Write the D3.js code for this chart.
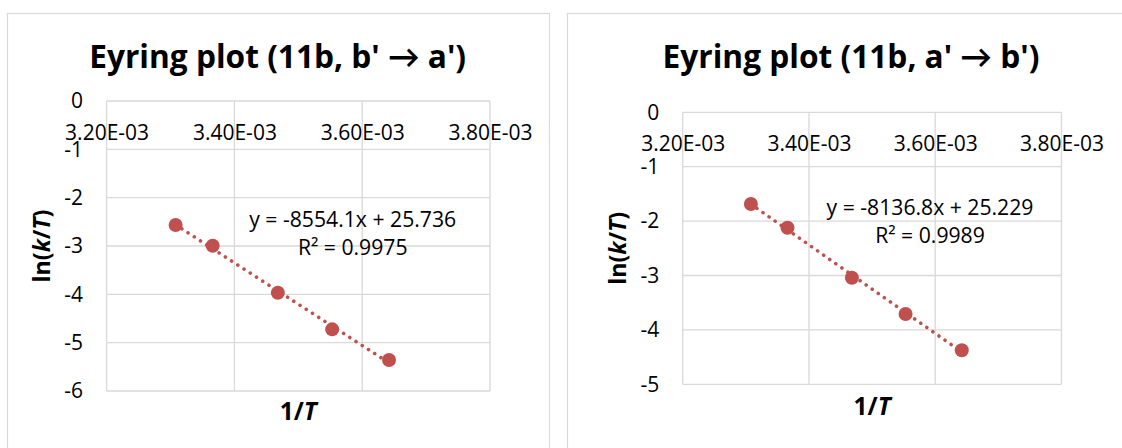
<!DOCTYPE html>
<html>
<head>
<meta charset="utf-8">
<script src="https://cdn.jsdelivr.net/npm/d3@7"></script>
<style>
  html, body { margin: 0; padding: 0; background: #fff; }
  svg { display: block; font-family: "Open Sans", Lato, sans-serif; }
</style>
</head>
<body>
<svg id="chart" width="1122" height="448"></svg>
<script>
// 1/T (K^-1) at the five measurement temperatures
const invT = [3.308e-3, 3.366e-3, 3.468e-3, 3.553e-3, 3.642e-3];
// ln(k/T), conversion b' -> a'
const lnkT_ba = [-2.566, -2.994, -3.966, -4.724, -5.359];
// ln(k/T), conversion a' -> b'
const lnkT_ab = [-1.686, -2.121, -3.040, -3.708, -4.375];
// least-squares fits
const slopes = [-8554.1, -8136.8];
const intercepts = [25.736, 25.229];
const r2s = [0.9975, 0.9989];
// axes
const xTicks = [3.2e-3, 3.4e-3, 3.6e-3, 3.8e-3];
const yTicks_ba = [0, -1, -2, -3, -4, -5, -6];
const yTicks_ab = [0, -1, -2, -3, -4, -5];
const titles = ["Eyring plot (11b, b' \u2192 a')", "Eyring plot (11b, a' \u2192 b')"];

const svg = d3.select("#chart");
const FONT = "'Open Sans', Lato, sans-serif";
const GRID = "#d9d9d9";
const MARK = "#c0504d";

// Excel-style scientific label, e.g. 3.20E-03
function sci(v) {
  const [m, e] = v.toExponential(2).split("e");
  const n = parseInt(e, 10);
  return m + "E" + (n < 0 ? "-" : "+") + String(Math.abs(n)).padStart(2, "0");
}

// scale a text's font size so that it spans the given width
function fitSize(sel, width, base) {
  sel.attr("font-size", base);
  const w = sel.node().getComputedTextLength();
  const size = base * width / w;
  sel.attr("font-size", size);
  return size;
}

function drawPanel(cfg) {
  const { box, plot, title, ys, yTicks, slope, intercept, r2, eq, axisTitleY } = cfg;
  const g = svg.append("g");

  // chart frame
  g.append("rect")
    .attr("x", box.x + 0.5).attr("y", box.y + 0.5)
    .attr("width", box.w).attr("height", box.h)
    .attr("fill", "#fff").attr("stroke", GRID).attr("stroke-width", 1.2);

  // title
  const t = g.append("text")
    .attr("x", box.titleX).attr("y", box.titleY)
    .attr("text-anchor", "middle")
    .attr("font-weight", "bold").attr("fill", "#000")
    .text(title);
  fitSize(t, 377, 30);

  const x = d3.scaleLinear()
    .domain([d3.min(xTicks), d3.max(xTicks)])
    .range([plot.l, plot.r]);
  const y = d3.scaleLinear()
    .domain([d3.min(yTicks), d3.max(yTicks)])
    .range([plot.b, plot.t]);

  // gridlines
  g.append("g").selectAll("line").data(yTicks).join("line")
    .attr("x1", plot.l).attr("x2", plot.r)
    .attr("y1", d => y(d)).attr("y2", d => y(d))
    .attr("stroke", GRID).attr("stroke-width", 1.3);
  g.append("g").selectAll("line").data(xTicks).join("line")
    .attr("y1", plot.t).attr("y2", plot.b)
    .attr("x1", d => x(d)).attr("x2", d => x(d))
    .attr("stroke", GRID).attr("stroke-width", 1.3);

  // horizontal axis crosses at y = 0 (top of the plot)
  const xAxis = g.append("g")
    .attr("transform", `translate(0,${y(0)})`)
    .call(d3.axisBottom(x).tickValues(xTicks).tickFormat(sci).tickSize(0));
  xAxis.select(".domain").remove();
  const xLabels = xAxis.selectAll("text")
    .attr("font-family", FONT).attr("fill", "#000");
  const tickSize = fitSize(d3.select(xLabels.nodes()[0]), 84, 21);
  xLabels.attr("font-size", tickSize).attr("dy", null).attr("y", 39);

  const yAxis = g.append("g")
    .attr("transform", `translate(${plot.l},0)`)
    .call(d3.axisLeft(y).tickValues(yTicks).tickFormat(d => String(d)).tickSize(0).tickPadding(23.5));
  yAxis.select(".domain").remove();
  yAxis.selectAll("text")
    .attr("font-family", FONT).attr("font-size", tickSize).attr("fill", "#000");

  // axis titles
  const yt = g.append("text")
    .attr("transform", `translate(${axisTitleY},${(plot.t + plot.b) / 2}) rotate(-90)`)
    .attr("text-anchor", "middle").attr("dy", "0.35em")
    .attr("font-weight", "bold").attr("fill", "#000");
  yt.append("tspan").text("ln(");
  yt.append("tspan").attr("font-style", "italic").text("k");
  yt.append("tspan").text("/");
  yt.append("tspan").attr("font-style", "italic").text("T");
  yt.append("tspan").text(")");
  fitSize(yt, 73, 23);

  const xt = g.append("text")
    .attr("x", (plot.l + plot.r) / 2).attr("y", cfg.xTitleBase)
    .attr("text-anchor", "middle")
    .attr("font-weight", "bold").attr("fill", "#000");
  xt.append("tspan").text("1/");
  xt.append("tspan").attr("font-style", "italic").text("T");
  fitSize(xt, 37, 23);

  // linear trendline over the measured range
  const xr = d3.extent(invT);
  g.append("path")
    .datum(xr)
    .attr("d", d3.line().x(d => x(d)).y(d => y(slope * d + intercept)))
    .attr("fill", "none").attr("stroke", MARK)
    .attr("stroke-width", 3.6).attr("stroke-linecap", "round")
    .attr("stroke-dasharray", "0.01 7.4");

  // data points
  g.append("g").selectAll("circle").data(invT.map((v, i) => [v, ys[i]])).join("circle")
    .attr("cx", d => x(d[0])).attr("cy", d => y(d[1]))
    .attr("r", 7).attr("fill", MARK);

  // fit equation
  const eqText = g.append("text")
    .attr("text-anchor", "middle")
    .attr("font-family", FONT).attr("fill", "#000");
  const line1 = eqText.append("tspan").attr("x", eq.x).attr("y", eq.y)
    .text(`y = ${slope}x + ${intercept}`);
  eqText.append("tspan").attr("x", eq.x).attr("y", eq.y + 28)
    .text(`R\u00b2 = ${r2}`);
  eqText.attr("font-size", 21);
  const w = line1.node().getComputedTextLength();
  eqText.attr("font-size", 21 * 207 / w);
}

drawPanel({
  box: { x: 7, y: 13, w: 542, h: 460, titleX: 277.7, titleY: 68.3 },
  plot: { l: 106.6, r: 490, t: 101, b: 391 },
  title: titles[0], ys: lnkT_ba, yTicks: yTicks_ba,
  slope: slopes[0], intercept: intercepts[0], r2: r2s[0],
  eq: { x: 352.7, y: 227 }, axisTitleY: 42, xTitleBase: 420
});

drawPanel({
  box: { x: 567, y: 13, w: 580, h: 460, titleX: 851, titleY: 68.3 },
  plot: { l: 682.7, r: 1061.5, t: 112.3, b: 384.3 },
  title: titles[1], ys: lnkT_ab, yTicks: yTicks_ab,
  slope: slopes[1], intercept: intercepts[1], r2: r2s[1],
  eq: { x: 930, y: 215 }, axisTitleY: 618, xTitleBase: 415
});
</script>
</body>
</html>
